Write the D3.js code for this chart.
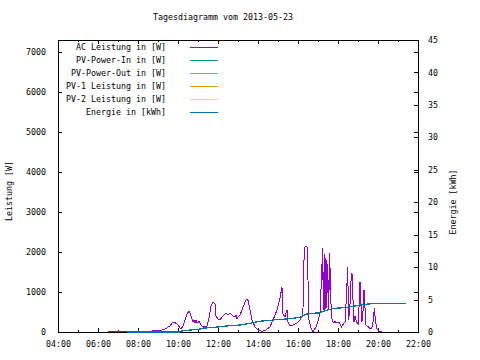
<!DOCTYPE html>
<html><head><meta charset="utf-8">
<script src="https://cdn.jsdelivr.net/npm/d3@7"></script>
<style>
body{margin:0;background:#fff;}
text{font-family:"DejaVu Sans Mono","Liberation Mono",monospace;font-size:8.3px;fill:#000;}
</style></head>
<body><svg id="c" width="480" height="360"></svg>
<script>
const title = "Tagesdiagramm vom 2013-05-23";
const yLabel = "Leistung [W]";
const y2Label = "Energie [kWh]";
const xTicks = [4,6,8,10,12,14,16,18,20,22];
const yTicks = [0,1000,2000,3000,4000,5000,6000,7000];
const y2Ticks = [0,5,10,15,20,25,30,35,40,45];
const legendNames = ["AC Leistung in [W]","PV-Power-In in [W]","PV-Power-Out in [W]","PV-1 Leistung in [W]","PV-2 Leistung in [W]","Energie in [kWh]"];
const legendColors = ["#9400d3","#009e73","#56b4e9","#e69f00","#f0e442","#0072b2"];

// AC Leistung [W] (time, value)
const acTimes = ["06:30","06:48","07:27","08:06","08:36","08:51","09:00","09:12","09:21","09:30","09:36","09:45","09:54","10:00","10:09","10:15","10:21","10:27","10:33","10:36","10:42","10:45","10:48","10:51","10:54","10:57","11:03","11:09","11:15","11:21","11:27","11:33","11:39","11:45","11:51","11:54","12:00","12:06","12:15","12:24","12:30","12:36","12:45","12:51","12:54","12:57","13:00","13:06","13:12","13:18","13:24","13:27","13:30","13:36","13:42","13:51","14:00","14:12","14:24","14:36","14:45","14:57","15:06","15:12","15:15","15:21","15:27","15:30","15:36","15:45","15:57","16:06","16:12","16:15","16:18","16:21","16:27","16:30","16:33","16:39","16:45","16:48","16:54","17:01","17:06","17:11","17:14","17:16","17:19","17:21","17:24","17:26","17:29","17:32","17:35","17:38","17:41","17:46","17:51","17:57","18:03","18:11","18:16","18:21","18:26","18:29","18:32","18:36","18:40","18:43","18:46","18:48","18:51","18:56","19:01","19:06","19:09","19:11","19:14","19:18","19:21","19:24","19:31","19:36","19:41","19:46","19:49","19:52","19:56","20:01","20:06","20:11"];
const acValues = [0,10,10,10,20,30,40,50,75,120,150,250,220,175,75,150,300,450,525,480,330,250,300,230,300,220,260,180,125,150,150,350,650,750,700,400,320,300,400,470,420,480,400,380,420,330,380,420,550,680,800,830,790,550,300,130,50,20,50,130,300,550,850,1120,450,380,550,250,150,175,220,300,400,600,1800,2130,2130,1300,300,100,10,50,130,300,470,1470,2100,550,1950,550,1850,600,1700,550,1970,900,350,225,260,225,250,125,200,250,1000,1630,300,700,1470,1450,500,250,400,250,200,1250,700,250,350,1050,600,175,130,90,90,300,600,300,90,30,10,0];

// Energie [kWh]
const enTimes = ["07:27","10:06","10:09","10:36","11:06","11:15","11:51","12:06","12:36","13:06","13:36","13:51","14:06","14:21","14:36","15:06","15:15","15:36","16:06","16:24","17:06","17:21","17:36","17:51","18:27","18:51","19:06","19:48","21:24"];
const enValues = [0,0,0.15,0.3,0.45,0.6,0.72,0.82,0.97,1.08,1.34,1.5,1.65,1.74,1.8,1.96,1.96,2.05,2.27,2.77,2.97,3.28,3.5,3.65,3.8,4.0,4.16,4.42,4.42];

const toH = s => { const [h,m] = s.split(":").map(Number); return h + m/60; };

const L=58, R=418, T=40, B=332;
const x = d3.scaleLinear().domain([4,22]).range([L,R]);
const y = d3.scaleLinear().domain([0,7300]).range([B,T]);
const y2 = d3.scaleLinear().domain([0,45]).range([B,T]);

const svg = d3.select("#c");
svg.append("rect").attr("width",480).attr("height",360).attr("fill","#fff");

const fmt = h => d3.format("02d")(h) + ":00";
function style(g){ g.select(".domain").remove(); g.selectAll("line").attr("stroke","#000").attr("shape-rendering","crispEdges"); g.selectAll("text").attr("font-family",null).attr("font-size",null); }

// x axes
svg.append("g").attr("transform",`translate(0,${B})`)
  .call(d3.axisBottom(x).tickValues(xTicks).tickFormat(fmt).tickSizeInner(-4).tickSizeOuter(0).tickPadding(9)).call(style);
svg.append("g").attr("transform",`translate(0,${B})`)
  .call(d3.axisBottom(x).tickValues(d3.range(5,22,2)).tickFormat("").tickSizeInner(-2).tickSizeOuter(0)).call(style);
svg.append("g").attr("transform",`translate(0,${T})`)
  .call(d3.axisTop(x).tickValues(xTicks).tickFormat("").tickSizeInner(-4).tickSizeOuter(0)).call(style);
svg.append("g").attr("transform",`translate(0,${T})`)
  .call(d3.axisTop(x).tickValues(d3.range(5,22,2)).tickFormat("").tickSizeInner(-2).tickSizeOuter(0)).call(style);
// y axes
svg.append("g").attr("transform",`translate(${L},0)`)
  .call(d3.axisLeft(y).tickValues(yTicks).tickFormat(d3.format("d")).tickSizeInner(-4).tickSizeOuter(0).tickPadding(12)).call(style);
svg.append("g").attr("transform",`translate(${R},0)`)
  .call(d3.axisRight(y).tickValues(yTicks).tickFormat("").tickSizeInner(-4).tickSizeOuter(0)).call(style);
svg.append("g").attr("transform",`translate(${R},0)`)
  .call(d3.axisRight(y2).tickValues(y2Ticks).tickFormat(d3.format("d")).tickSizeInner(-4).tickSizeOuter(0).tickPadding(10)).call(style);

// border
svg.append("rect").attr("x",L+0.5).attr("y",T+0.5).attr("width",R-L).attr("height",B-T)
  .attr("fill","none").attr("stroke","#000").attr("stroke-width",1);

// title & labels
svg.append("text").attr("x",223).attr("y",20).attr("text-anchor","middle").text(title);
svg.append("text").attr("transform","translate(12,191) rotate(-90)").attr("text-anchor","middle").text(yLabel);
svg.append("text").attr("transform","translate(456,202) rotate(-90)").attr("text-anchor","middle").text(y2Label);

// data lines
const acData = acTimes.map((t,i)=>({h:toH(t), v:acValues[i]}));
const enData = enTimes.map((t,i)=>({h:toH(t), v:enValues[i]}));
svg.append("path").datum(acData).attr("fill","none").attr("stroke",legendColors[0]).attr("stroke-width",1)
  .attr("shape-rendering","crispEdges")
  .attr("d", d3.line().x(d=>x(d.h)).y(d=>y(d.v)));
svg.append("path").datum(enData).attr("fill","none").attr("stroke",legendColors[5]).attr("stroke-width",1.3)
  .attr("shape-rendering","crispEdges")
  .attr("d", d3.line().x(d=>x(d.h)).y(d=>y2(d.v)));

// legend
const lg = svg.append("g");
legendNames.forEach((n,i)=>{
  const cy = 46.5 + i*13.1;
  lg.append("text").attr("x",166).attr("y",cy+3).attr("text-anchor","end").text(n);
  lg.append("line").attr("x1",190).attr("x2",218).attr("y1",Math.round(cy)+0.5).attr("y2",Math.round(cy)+0.5)
    .attr("stroke",legendColors[i]).attr("stroke-width",1);
});
</script></body></html>
